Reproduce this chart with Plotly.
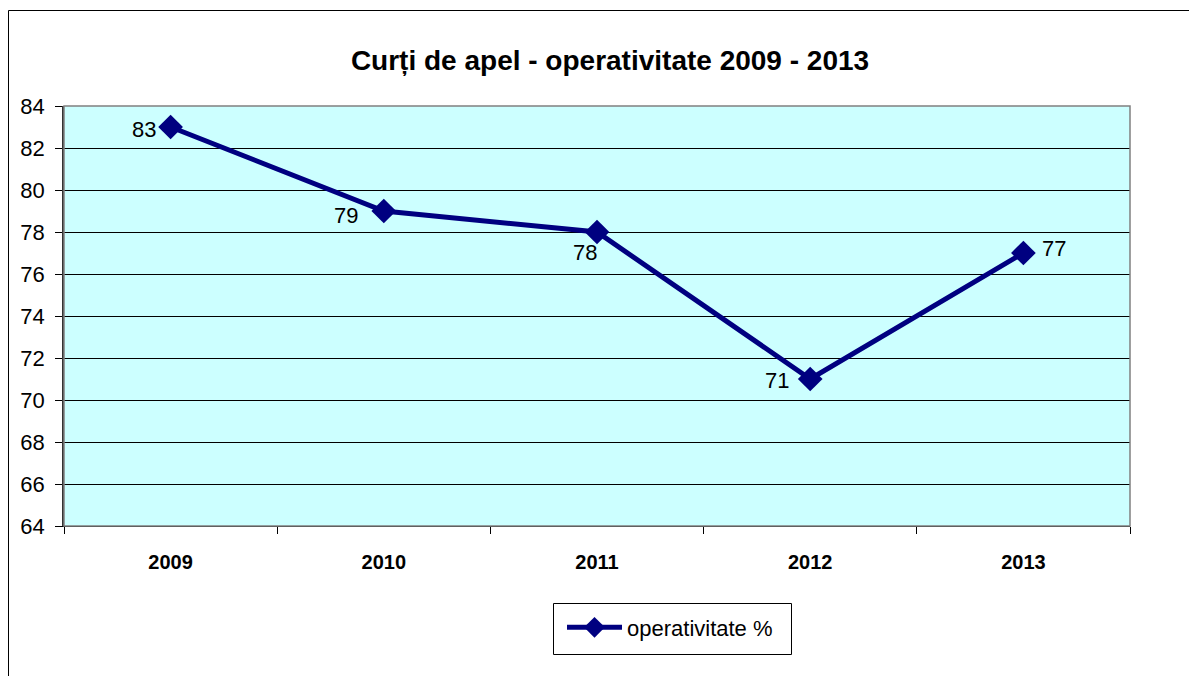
import plotly.graph_objects as go

years = ["2009", "2010", "2011", "2012", "2013"]
values = [83, 79, 78, 71, 77]
series_name = "operativitate %"
title_text = "Curți de apel - operativitate 2009 - 2013"

# label offsets (px) relative to each marker: style only
label_dx = [-27, -38, -12, -33, 31]
label_dy = [-2, -4, -20, -1, 5]

NAVY = "#000080"
FONT = "Liberation Sans, Arial, sans-serif"

# figure is placed 8px inside the page (browser body margin)
W, H = 1189, 668
L, R, T, B = 56, 67, 98, 150
pw, ph = W - L - R, H - T - B

def fx(px):
    return (px - L) / pw

def fy(py):
    return (H - B - py) / ph

fig = go.Figure()
fig.add_trace(go.Scatter(
    x=years, y=values, name=series_name,
    mode="lines+markers",
    line=dict(color=NAVY, width=5),
    marker=dict(symbol="diamond", size=19, color=NAVY),
    cliponaxis=False,
))

# category axis: annotations are placed by category index
for i, (v, dx, dy) in enumerate(zip(values, label_dx, label_dy)):
    fig.add_annotation(x=i, y=v, xref="x", yref="y", text=str(v), showarrow=False,
                       xshift=dx, yshift=dy, xanchor="center", yanchor="middle",
                       font=dict(family=FONT, size=22, color="black"))

fig.update_layout(
    width=W, height=H,
    margin=dict(l=L, r=R, t=T, b=B),
    paper_bgcolor="white",
    plot_bgcolor="#CCFFFF",
    font=dict(family=FONT, color="black"),
    title=dict(text="<b>" + title_text + "</b>", x=fx(602), xref="paper",
               xanchor="center", y=1 - 52 / H, yanchor="middle",
               font=dict(size=28, color="black")),
    showlegend=True,
    legend=dict(x=fx(554), xanchor="left", y=fy(598.5), yanchor="top",
                borderwidth=0, bgcolor="rgba(0,0,0,0)",
                font=dict(size=22, color="black"), itemwidth=55,
                tracegroupgap=0),
    xaxis=dict(
        type="category", range=[-0.5, len(years) - 0.5],
        tickson="boundaries", ticks="outside", ticklen=7,
        tickcolor="black", showline=True, linecolor="black", linewidth=1,
        showgrid=False, tickfont=dict(size=20, color="black"),
        tickprefix="<b>", ticksuffix="</b>", ticklabelstandoff=18,
    ),
    yaxis=dict(
        range=[64, 84], dtick=2, ticks="outside", ticklen=7, tickcolor="black",
        showline=True, linecolor="#333333", linewidth=1.5,
        showgrid=True, gridcolor="black", gridwidth=1,
        tickfont=dict(size=22, color="black"), zeroline=False,
        ticklabelstandoff=6,
    ),
    shapes=[
        dict(type="rect", xref="paper", yref="paper", x0=0, x1=1, y0=0, y1=1,
             line=dict(color="#808080", width=1.5), layer="above"),
        dict(type="rect", xref="paper", yref="paper",
             x0=fx(0.5), x1=fx(W + 20), y0=fy(H + 20), y1=fy(2.5),
             line=dict(color="black", width=1)),
        # legend frame
        dict(type="rect", xref="paper", yref="paper",
             x0=fx(545.5), x1=fx(783.5), y0=fy(646.5), y1=fy(595.5),
             line=dict(color="black", width=1), fillcolor="white", layer="below"),
    ],
)

fig.write_html("out.html")
